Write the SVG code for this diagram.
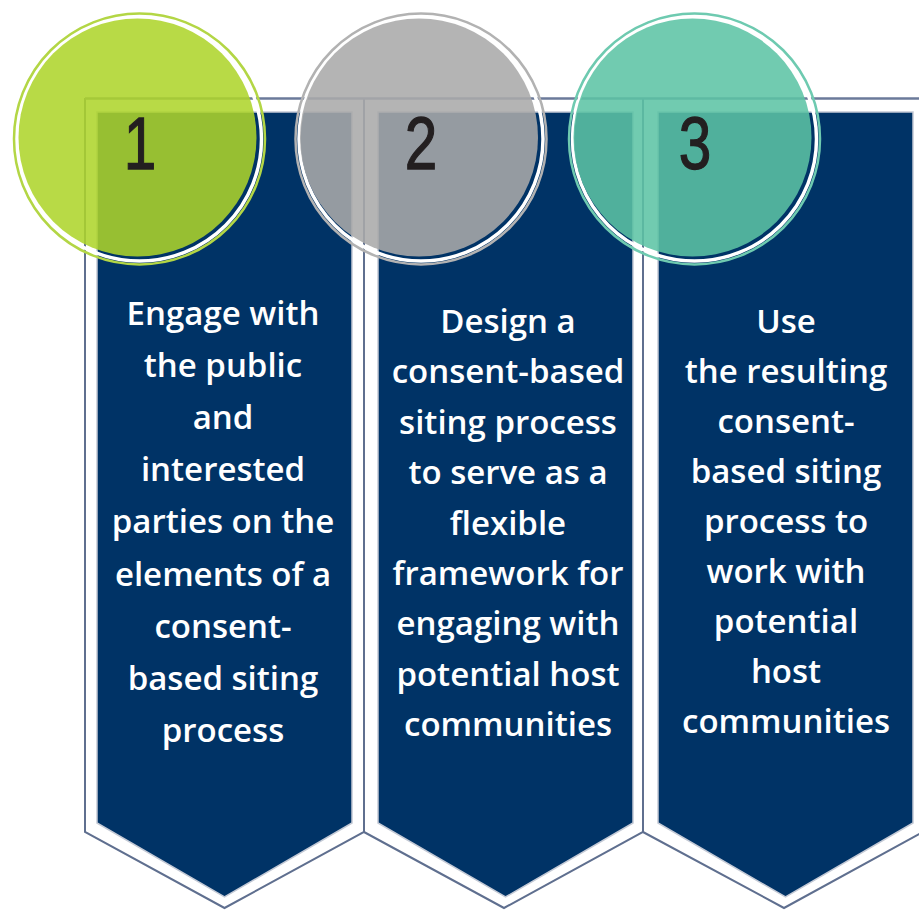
<svg xmlns="http://www.w3.org/2000/svg" width="919" height="911" viewBox="0 0 919 911">
<style>
.navy{fill:#003366;stroke:#c3c9d5;stroke-width:1.5}
.outline{fill:none;stroke:#5f6f8f;stroke-width:2}
.txt{font-family:"Open Sans","Liberation Sans",sans-serif;font-size:33px;font-weight:600;fill:#ffffff;text-anchor:middle}
.num{font-family:"Liberation Sans",Arial,sans-serif;font-size:75px;fill:#231f20;stroke:#231f20;stroke-width:1.3;text-anchor:middle}
.wring{fill:none;stroke:#ffffff;stroke-width:3.5}
</style>
<rect width="919" height="911" fill="#ffffff"/>
<g id="outlines">
<path class="outline" d="M85,98 V832 L224.5,908 L364,832 V98"/>
<path class="outline" d="M364,832 L504,908 L643,832 V98"/>
<path class="outline" d="M643,832 L784,908 L923,832"/>
<line x1="85" y1="98.5" x2="919" y2="98.5" stroke="#6b7a9a" stroke-width="2.5"/>
</g>
<g id="panel1">
<path class="navy" d="M97,112 H352 V823 L224.5,897 L97,823 Z"/>
<text class="txt"><tspan x="223" y="324.5">Engage with</tspan><tspan x="223" y="376.7">the public</tspan><tspan x="223" y="428.9">and</tspan><tspan x="223" y="481.1">interested</tspan><tspan x="223" y="533.3">parties on the</tspan><tspan x="223" y="585.5">elements of a</tspan><tspan x="223" y="637.7">consent-</tspan><tspan x="223" y="689.9">based siting</tspan><tspan x="223" y="742.1">process</tspan></text>
</g>
<g id="panel2">
<path class="navy" d="M378,112 H633 V823 L505.5,897 L378,823 Z"/>
<text class="txt"><tspan x="508" y="333">Design a</tspan><tspan x="508" y="383.4">consent-based</tspan><tspan x="508" y="433.8">siting process</tspan><tspan x="508" y="484.2">to serve as a</tspan><tspan x="508" y="534.6">flexible</tspan><tspan x="508" y="585">framework for</tspan><tspan x="508" y="635.4">engaging with</tspan><tspan x="508" y="685.8">potential host</tspan><tspan x="508" y="736.2">communities</tspan></text>
</g>
<g id="panel3">
<path class="navy" d="M658,112 H913 V823 L785.5,897 L658,823 Z"/>
<text class="txt"><tspan x="786" y="333">Use</tspan><tspan x="786" y="383">the resulting</tspan><tspan x="786" y="433">consent-</tspan><tspan x="786" y="483">based siting</tspan><tspan x="786" y="533">process to</tspan><tspan x="786" y="583">work with</tspan><tspan x="786" y="633">potential</tspan><tspan x="786" y="683">host</tspan><tspan x="786" y="733">communities</tspan></text>
</g>
<g id="circle1">
<circle class="wring" cx="139.5" cy="139" r="122"/>
<circle cx="139.5" cy="139" r="125.5" fill="none" stroke="#b3d645" stroke-width="2.5"/>
<circle cx="137.5" cy="137.5" r="119" fill="#aed52a" fill-opacity="0.87"/>
<text class="num" transform="translate(140,169) scale(0.78,1)">1</text>
</g>
<g id="circle2">
<circle class="wring" cx="421" cy="139" r="122"/>
<circle cx="421" cy="139" r="125.5" fill="none" stroke="#b2b2b2" stroke-width="2.5"/>
<circle cx="419" cy="137.5" r="119" fill="#aaaaaa" fill-opacity="0.88"/>
<text class="num" transform="translate(421,169) scale(0.78,1)">2</text>
</g>
<g id="circle3">
<circle class="wring" cx="694.5" cy="139" r="122"/>
<circle cx="694.5" cy="139" r="125.5" fill="none" stroke="#6ecab0" stroke-width="2.5"/>
<circle cx="692.5" cy="137.5" r="119" fill="#5cc3a4" fill-opacity="0.87"/>
<text class="num" transform="translate(695,169) scale(0.78,1)">3</text>
</g>
</svg>
